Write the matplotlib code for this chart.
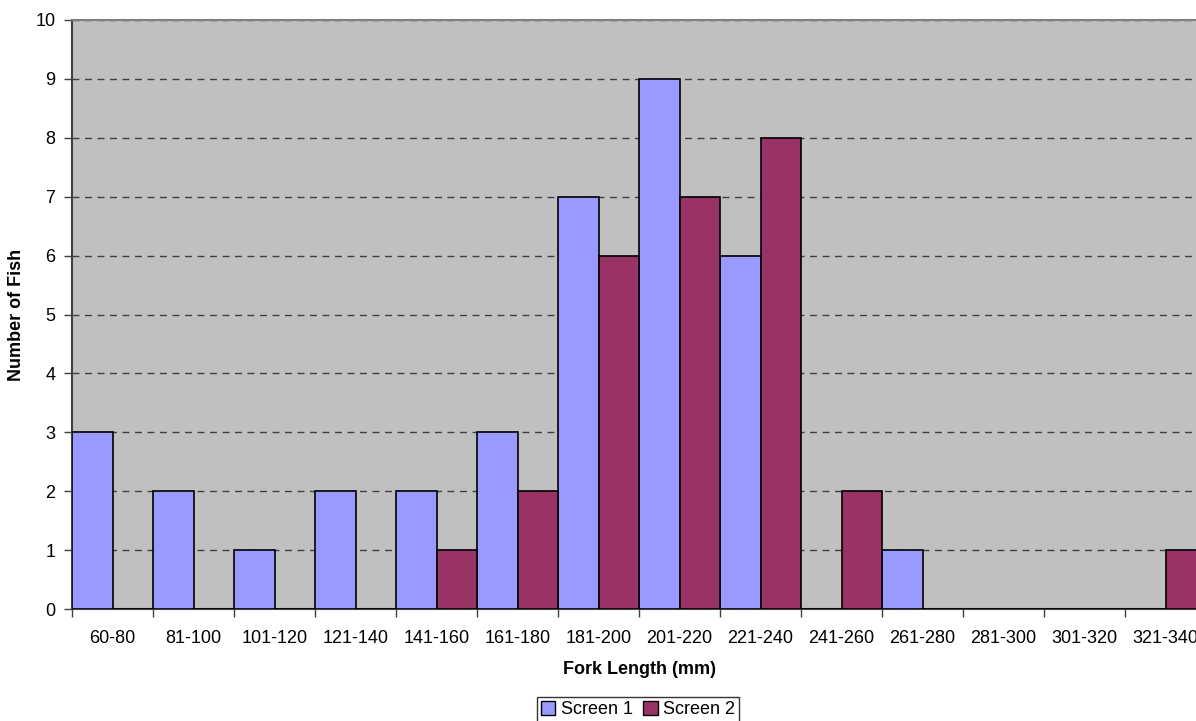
import numpy as np
import matplotlib
matplotlib.use("Agg")
import matplotlib.pyplot as plt
from matplotlib.patches import Patch

plt.rcParams['font.family'] = ['Liberation Sans', 'DejaVu Sans']

# fork length bins and counts per screen
bins = ["60-80", "81-100", "101-120", "121-140", "141-160", "161-180", "181-200",
        "201-220", "221-240", "241-260", "261-280", "281-300", "301-320", "321-340"]
screen1 = [3, 2, 1, 2, 2, 3, 7, 9, 6, 0, 1, 0, 0, 0]
screen2 = [0, 0, 0, 0, 1, 2, 6, 7, 8, 2, 0, 0, 0, 1]

c1 = "#9999FF"
c2 = "#993366"

fig = plt.figure(figsize=(11.96, 7.21), dpi=100)
# plot area runs slightly past the right edge of the figure
ax = fig.add_axes([72 / 1196, 1 - 609 / 721, 1134 / 1196, 589 / 721])
ax.set_facecolor("#C0C0C0")

x = np.arange(len(bins))
w = 0.5
ax.bar(x - w / 2, screen1, w, color=c1, edgecolor="black", linewidth=1.2, zorder=3)
ax.bar(x + w / 2, screen2, w, color=c2, edgecolor="black", linewidth=1.2, zorder=3)

ax.set_xlim(-0.5, len(bins) - 0.5)
ax.set_ylim(0, 10)
ax.set_yticks(range(0, 11))
ax.tick_params(axis="y", labelsize=13, length=6, width=1, color="#404040", pad=6)

ax.set_xticks(np.arange(len(bins) + 1) - 0.5)
ax.set_xticklabels([])
ax.set_xticks(x, minor=True)
ax.set_xticklabels(bins, minor=True, fontsize=13)
ax.tick_params(axis="x", which="major", length=6, width=1, color="#404040")
ax.tick_params(axis="x", which="minor", length=0, pad=15)

ax.yaxis.grid(True, linestyle=(0, (5, 4)), color="#404040", linewidth=1, zorder=1)
ax.set_axisbelow(True)

for s in ["left", "bottom"]:
    ax.spines[s].set_color("#404040")
    ax.spines[s].set_linewidth(1.5)
ax.spines["top"].set_color("#808080")
ax.spines["top"].set_linewidth(1.5)
ax.spines["right"].set_visible(False)

ax.set_xlabel("Fork Length (mm)", fontsize=13, fontweight="bold", labelpad=10)
ax.set_ylabel("Number of Fish", fontsize=13, fontweight="bold", labelpad=7)

handles = [Patch(facecolor=c1, edgecolor="black", label="Screen 1"),
           Patch(facecolor=c2, edgecolor="black", label="Screen 2")]
fig.legend(handles=handles, loc="lower center", bbox_to_anchor=(638 / 1196, -0.001),
           ncol=2, fontsize=13, frameon=True, fancybox=False, edgecolor="black",
           handlelength=0.8, handleheight=0.8, handletextpad=0.3, columnspacing=0.6,
           borderpad=0.2, borderaxespad=0)

fig.savefig("out.png", dpi=100)
